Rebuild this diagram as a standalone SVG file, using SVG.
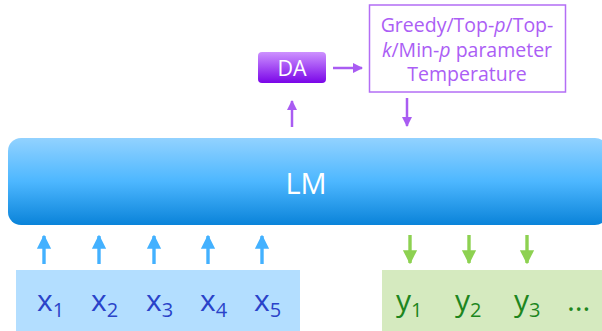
<svg xmlns="http://www.w3.org/2000/svg" width="602" height="331" viewBox="0 0 602 331">
<defs>
<linearGradient id="lmg" x1="0" y1="0" x2="0" y2="1">
<stop offset="0" stop-color="#92d2ff"/>
<stop offset="0.5" stop-color="#4db7ff"/>
<stop offset="1" stop-color="#0a83d9"/>
</linearGradient>
<linearGradient id="dag" x1="0" y1="0" x2="0" y2="1">
<stop offset="0" stop-color="#cd92ff"/>
<stop offset="1" stop-color="#7a05e8"/>
</linearGradient>
<marker id="hp" viewBox="0 0 10 10" refX="9" refY="5" markerWidth="4.2" markerHeight="4.2" orient="auto" markerUnits="strokeWidth">
<path d="M0,0 L10,5 L0,10 Z" fill="#a95cf2"/>
</marker>
<marker id="hb" viewBox="0 0 10 10" refX="9" refY="5" markerWidth="4.2" markerHeight="4.6" orient="auto" markerUnits="strokeWidth">
<path d="M0,0 L10,5 L0,10 Z" fill="#43b1ff"/>
</marker>
<marker id="hg" viewBox="0 0 10 10" refX="9" refY="5" markerWidth="4.2" markerHeight="4.6" orient="auto" markerUnits="strokeWidth">
<path d="M0,0 L10,5 L0,10 Z" fill="#8dd151"/>
</marker>
</defs>
<style>
text{font-family:"Open Sans","Noto Sans","DejaVu Sans",sans-serif}
.p{stroke:#a95cf2;stroke-width:2.5;fill:none;marker-end:url(#hp)}
.b{stroke:#43b1ff;stroke-width:3.4;fill:none;marker-end:url(#hb)}
.g{stroke:#8dd151;stroke-width:3.4;fill:none;marker-end:url(#hg)}
.xt{fill:#2a43c9;font-size:30px;font-weight:500}
.yt{fill:#1e861e;font-size:30px;font-weight:500}
.sub{font-size:20px}
.pt{fill:#ab5ef5;font-size:19.5px;text-anchor:middle;font-weight:500}
</style>
<g id="lm">
<rect x="8" y="138" width="600" height="87" rx="13" fill="url(#lmg)"/>
<text x="306" y="194" fill="#ffffff" font-size="29" text-anchor="middle">LM</text>
</g>
<g id="da">
<rect x="258" y="52" width="68" height="31" rx="4" fill="url(#dag)"/>
<text x="292" y="75.5" fill="#ffffff" font-size="21.5" text-anchor="middle" font-weight="500">DA</text>
</g>
<g id="params">
<rect x="369.5" y="5" width="196" height="87" fill="#ffffff" stroke="#b36ef5" stroke-width="1.5"/>
<text class="pt" x="467" y="32">Greedy/Top-<tspan font-style="italic">p</tspan>/Top-</text>
<text class="pt" x="467" y="56.5"><tspan font-style="italic">k</tspan>/Min-<tspan font-style="italic">p</tspan> parameter</text>
<text class="pt" x="467" y="81">Temperature</text>
</g>
<g id="inputs">
<rect x="16" y="270" width="284" height="61" fill="#b3deff"/>
<text class="xt" x="37" y="311">x<tspan class="sub" dy="6">1</tspan></text>
<text class="xt" x="91" y="311">x<tspan class="sub" dy="6">2</tspan></text>
<text class="xt" x="146" y="311">x<tspan class="sub" dy="6">3</tspan></text>
<text class="xt" x="200" y="311">x<tspan class="sub" dy="6">4</tspan></text>
<text class="xt" x="254" y="311">x<tspan class="sub" dy="6">5</tspan></text>
</g>
<g id="outputs">
<rect x="382" y="270" width="220" height="61" fill="#d5eabf"/>
<text class="yt" x="396" y="311">y<tspan class="sub" dy="6">1</tspan></text>
<text class="yt" x="455" y="311">y<tspan class="sub" dy="6">2</tspan></text>
<text class="yt" x="514" y="311">y<tspan class="sub" dy="6">3</tspan></text>
<text class="yt" x="567" y="311" font-size="24" font-weight="700">…</text>
</g>
<g id="connectors">
<line class="p" x1="292" y1="127" x2="292" y2="101"/>
<line class="p" x1="333" y1="68" x2="362" y2="68"/>
<line class="p" x1="407" y1="98" x2="407" y2="126"/>
<line class="b" x1="44" y1="264" x2="44" y2="236"/>
<line class="b" x1="99" y1="264" x2="99" y2="236"/>
<line class="b" x1="154" y1="264" x2="154" y2="236"/>
<line class="b" x1="208" y1="264" x2="208" y2="236"/>
<line class="b" x1="262" y1="264" x2="262" y2="236"/>
<line class="g" x1="410" y1="235" x2="410" y2="263"/>
<line class="g" x1="469" y1="235" x2="469" y2="263"/>
<line class="g" x1="527" y1="235" x2="527" y2="263"/>
</g>
</svg>
